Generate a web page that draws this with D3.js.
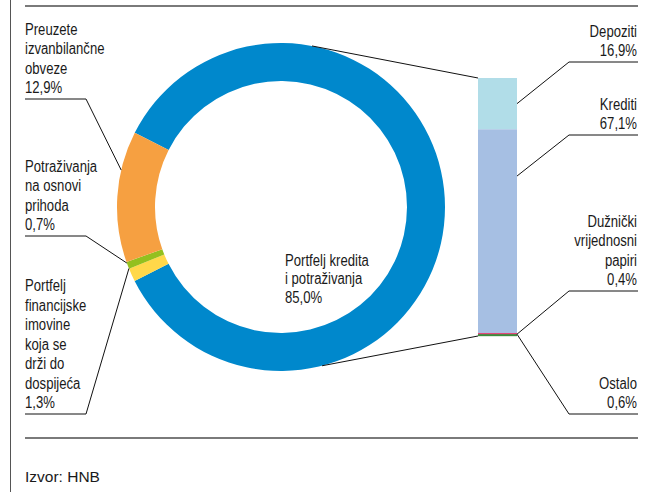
<!DOCTYPE html>
<html><head><meta charset="utf-8">
<script src="https://cdn.jsdelivr.net/npm/d3@7"></script>
<style>
html,body{margin:0;padding:0;background:#fff;}
svg{display:block;}
.lbl{font-family:"Liberation Sans",Arial,sans-serif;font-size:16px;fill:#1a1a1a;}
.src{font-family:"Liberation Sans",Arial,sans-serif;font-size:15.5px;fill:#1a1a1a;}
</style></head>
<body>
<svg id="c" width="649" height="492"></svg>
<script>
// ---- data ----
const pieNames = ["Portfelj kredita i potraživanja", "Portfelj financijske imovine koja se drži do dospijeća", "Potraživanja na osnovi prihoda", "Preuzete izvanbilančne obveze"];
const pieValues = [85.0, 1.3, 0.7, 12.9];
const pieLabels = [
  ["Portfelj kredita", "i potraživanja", "85,0%"],
  ["Portfelj", "financijske", "imovine", "koja se", "drži do", "dospijeća", "1,3%"],
  ["Potraživanja", "na osnovi", "prihoda", "0,7%"],
  ["Preuzete", "izvanbilančne", "obveze", "12,9%"]
];
const barNames = ["Depoziti", "Krediti", "Dužnički vrijednosni papiri", "Ostalo"];
const barValues = [16.9, 67.1, 0.4, 0.6];
const barLabels = [
  ["Depoziti", "16,9%"],
  ["Krediti", "67,1%"],
  ["Dužnički", "vrijednosni", "papiri", "0,4%"],
  ["Ostalo", "0,6%"]
];
const sourceText = "Izvor: HNB";

// ---- styles / layout ----
const pieColors = ["#0088cc", "#ffd84a", "#93c01f", "#f6a041"];
const barColors = ["#b1dde8", "#a6bfe3", "#e4467c", "#3c8c3c"];
const svg = d3.select("#c");
const cx = 281, cy = 207, rOut = 164, rIn = 126;
const deg = Math.PI / 180;
const start = -63.1 * deg;
const SX = 0.82; // condensed look

// frame rules
svg.append("line").attr("x1", 10.5).attr("x2", 10.5).attr("y1", 0).attr("y2", 492).attr("stroke", "#555").attr("stroke-width", 1);
svg.append("line").attr("x1", 25).attr("x2", 638).attr("y1", 6).attr("y2", 6).attr("stroke", "#7a7a7a").attr("stroke-width", 2);
svg.append("line").attr("x1", 25).attr("x2", 638).attr("y1", 438).attr("y2", 438).attr("stroke", "#7a7a7a").attr("stroke-width", 2);

// donut
const pie = d3.pie().sort(null).value(d => d).startAngle(start).endAngle(start + 2 * Math.PI);
const arcs = pie(pieValues);
const arc = d3.arc().innerRadius(rIn).outerRadius(rOut);
const g = svg.append("g").attr("transform", `translate(${cx},${cy})`);
g.selectAll("path").data(arcs).enter().append("path")
  .attr("d", arc).attr("fill", (d, i) => pieColors[i]);

function polar(r, a) { return [cx + r * Math.sin(a), cy - r * Math.cos(a)]; }

// bar (exploded blue slice)
const barX = 478, barW = 39;
const y = d3.scaleLinear().domain([0, d3.sum(barValues)]).range([78, 336]);
const stack = [];
let acc = 0;
barValues.forEach((v, i) => { stack.push({ v0: acc, v1: acc + v, i }); acc += v; });
svg.selectAll("rect.bar").data(stack).enter().append("rect")
  .attr("x", barX).attr("width", barW)
  .attr("y", d => y(d.v0)).attr("height", d => Math.max(y(d.v1) - y(d.v0), 2))
  .attr("fill", d => barColors[d.i]);

// donut-to-bar connectors
const topPt = polar(rOut, 10.9 * deg), botPt = polar(rOut, 165.5 * deg);
svg.append("line").attr("x1", topPt[0]).attr("y1", topPt[1]).attr("x2", barX).attr("y2", y(0)).attr("stroke", "#111").attr("stroke-width", 1);
svg.append("line").attr("x1", botPt[0]).attr("y1", botPt[1]).attr("x2", barX).attr("y2", y(d3.sum(barValues))).attr("stroke", "#111").attr("stroke-width", 1);

const LH = 19.5;
function block(lines, x, lastY, anchor, lh) {
  const t = svg.append("g").attr("transform", `translate(${x},0) scale(${SX},1)`)
    .append("text").attr("class", "lbl").attr("text-anchor", anchor);
  const n = lines.length;
  lines.forEach((s, k) => {
    t.append("tspan").attr("x", 0).attr("y", lastY - (n - 1 - k) * lh).text(s);
  });
}

// left labels with leaders
const leftDefs = [
  { i: 3, uy: 99, ang: 283 },
  { i: 2, uy: 236, ang: 250 },
  { i: 1, uy: 414, ang: 248 }
];
leftDefs.forEach(d => {
  block(pieLabels[d.i], 25, d.uy - 5.5, "start", LH);
  const p = polar(rOut, d.ang * deg);
  svg.append("polyline").attr("fill", "none").attr("stroke", "#111").attr("stroke-width", 1)
    .attr("points", [[25, d.uy], [86, d.uy], p].map(q => q.join(",")).join(" "));
});

// center label
block(pieLabels[0], 285, 303, "start", 18.5);

// right labels with leaders
const rightDefs = [
  { i: 0, uy: 62, at: 8.45 },
  { i: 1, uy: 135, at: 32.3 },
  { i: 2, uy: 291, at: 84.4 },
  { i: 3, uy: 414, at: 84.4 }
];
rightDefs.forEach(d => {
  block(barLabels[d.i], 637, d.uy - 5.5, "end", LH);
  svg.append("polyline").attr("fill", "none").attr("stroke", "#111").attr("stroke-width", 1)
    .attr("points", [[638, d.uy], [569, d.uy], [barX + barW, y(d.at)]].map(q => q.join(",")).join(" "));
});

// source
svg.append("text").attr("class", "src").attr("x", 25).attr("y", 482).text(sourceText);
</script>
</body></html>
